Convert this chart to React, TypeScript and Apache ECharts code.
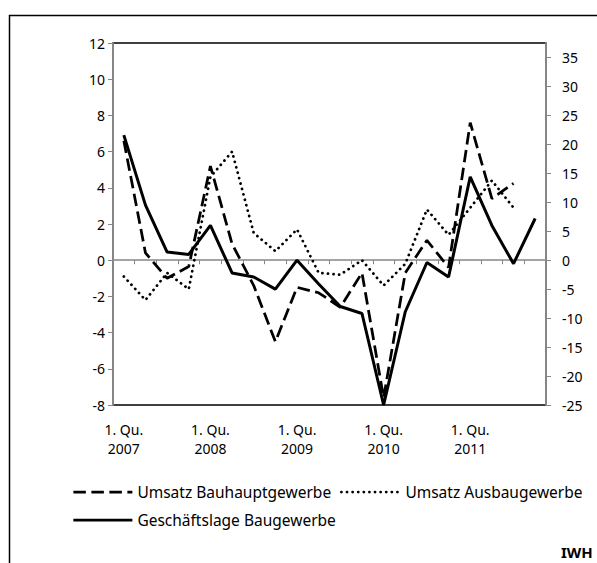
import React, { useEffect, useRef } from 'react';
import * as echarts from 'echarts';

const years = [2007, 2008, 2009, 2010, 2011];
const quarters: string[] = [];
years.forEach((y) => {
  for (let q = 1; q <= 4; q++) quarters.push(`${q}. Qu. ${y}`);
});

// Umsatz Bauhauptgewerbe (left axis)
const umsatzBauhaupt = [6.6, 0.4, -1.0, -0.35, 5.2, 0.9, -1.4, -4.5, -1.5, -1.8, -2.6, -0.7, -7.6, -0.7, 1.1, -0.4, 7.6, 3.4, 4.25, null];
// Umsatz Ausbaugewerbe (left axis)
const umsatzAusbau = [-0.9, -2.2, -0.7, -1.6, 4.6, 6.0, 1.5, 0.5, 1.7, -0.7, -0.8, 0.0, -1.4, -0.2, 2.8, 1.4, 2.9, 4.4, 2.9, null];
// Geschäftslage Baugewerbe (right axis)
const geschaeftslage = [21.6, 9.5, 1.4, 1.0, 6.0, -2.2, -2.9, -5.0, 0.0, -4.1, -8.0, -9.2, -25.0, -8.9, -0.4, -2.9, 14.4, 6.0, -0.6, 7.2];

const rightTicks = [-25, -20, -15, -10, -5, 0, 5, 10, 15, 20, 25, 30, 35];

const FONT = "'Noto Sans', 'Open Sans', sans-serif";

export default function App() {
  const ref = useRef<HTMLDivElement>(null);
  useEffect(() => {
    const chart = echarts.init(ref.current!, null, { renderer: 'svg' });
    const axisGray = '#868686';
    const legendCommon = {
      itemWidth: 59,
      itemHeight: 14,
      itemGap: 0,
      padding: 0,
      orient: 'horizontal',
      textStyle: { fontSize: 15.5, color: '#000', fontFamily: FONT },
      itemStyle: { opacity: 0 },
      lineStyle: { width: 2.75 },
      selectedMode: false,
    };
    chart.setOption({
      animation: false,
      backgroundColor: '#fff',
      textStyle: { fontFamily: FONT },
      grid: {
        left: 113,
        right: 51,
        top: 43,
        bottom: 158,
        show: true,
        borderColor: '#000',
        borderWidth: 1.5,
        backgroundColor: 'transparent',
      },
      xAxis: [
        {
          type: 'category',
          data: quarters,
          position: 'bottom',
          boundaryGap: true,
          axisLine: { show: false, onZero: false },
          axisTick: { show: false },
          splitLine: { show: false },
          axisLabel: {
            interval: 3,
            formatter: (v: string) => v.replace(' 20', '\n20'),
            color: '#000',
            fontSize: 14,
            lineHeight: 19,
            margin: 15,
            fontFamily: FONT,
          },
        },
        {
          type: 'category',
          data: quarters,
          position: 'bottom',
          boundaryGap: true,
          axisLine: { show: true, onZero: true, lineStyle: { color: axisGray, width: 1.5 } },
          axisTick: { show: true, interval: 0, length: 4, lineStyle: { color: axisGray, width: 1 } },
          axisLabel: { show: false },
          splitLine: { show: false },
        },
      ],
      yAxis: [
        {
          type: 'value',
          min: -8,
          max: 12,
          interval: 2,
          position: 'left',
          axisLine: { show: true, lineStyle: { color: axisGray, width: 2 } },
          axisTick: { show: true, length: 5, lineStyle: { color: axisGray, width: 1 } },
          axisLabel: { color: '#000', fontSize: 14, margin: 8, fontFamily: FONT },
          splitLine: { show: false },
        },
        {
          type: 'value',
          min: -25,
          max: 37.5,
          interval: 5,
          position: 'right',
          axisLine: { show: true, lineStyle: { color: axisGray, width: 2 } },
          axisTick: { show: true, length: 5, customValues: rightTicks, lineStyle: { color: axisGray, width: 1 } },
          axisLabel: { color: '#000', fontSize: 14, margin: 16, align: 'left', customValues: rightTicks, fontFamily: FONT },
          splitLine: { show: false },
        },
      ],
      legend: [
        { ...legendCommon, data: ['Umsatz Bauhauptgewerbe'], left: 72, top: 484 },
        { ...legendCommon, data: ['Umsatz Ausbaugewerbe'], left: 340, top: 484 },
        { ...legendCommon, data: ['Geschäftslage Baugewerbe'], left: 72, top: 512 },
      ],
      series: [
        {
          name: 'Umsatz Bauhauptgewerbe',
          type: 'line',
          data: umsatzBauhaupt,
          xAxisIndex: 0,
          yAxisIndex: 0,
          symbol: 'none',
          color: '#000',
          lineStyle: { color: '#000', width: 2.75, type: [12.5, 5.5] },
          z: 3,
        },
        {
          name: 'Umsatz Ausbaugewerbe',
          type: 'line',
          data: umsatzAusbau,
          xAxisIndex: 0,
          yAxisIndex: 0,
          symbol: 'none',
          color: '#000',
          lineStyle: { color: '#000', width: 2.75, type: [0.1, 5.5], cap: 'round' },
          z: 2,
        },
        {
          name: 'Geschäftslage Baugewerbe',
          type: 'line',
          data: geschaeftslage,
          xAxisIndex: 0,
          yAxisIndex: 1,
          symbol: 'none',
          color: '#000',
          lineStyle: { color: '#000', width: 3, type: 'solid' },
          z: 4,
        },
      ],
      graphic: [
        {
          type: 'rect',
          silent: true,
          shape: { x: 9.5, y: 15.5, width: 700, height: 700 },
          style: { fill: 'none', stroke: '#000', lineWidth: 1.5 },
        },
        {
          type: 'text',
          silent: true,
          x: 561,
          y: 552,
          style: {
            text: 'IWH',
            fontSize: 15,
            fontWeight: 'bold',
            fontFamily: FONT,
            fill: '#000',
            verticalAlign: 'middle',
          },
        },
      ],
    });
    return () => chart.dispose();
  }, []);
  return (
    <div
      ref={ref}
      style={{ position: 'absolute', left: 0, top: 0, width: 597, height: 563, background: '#fff' }}
    />
  );
}
